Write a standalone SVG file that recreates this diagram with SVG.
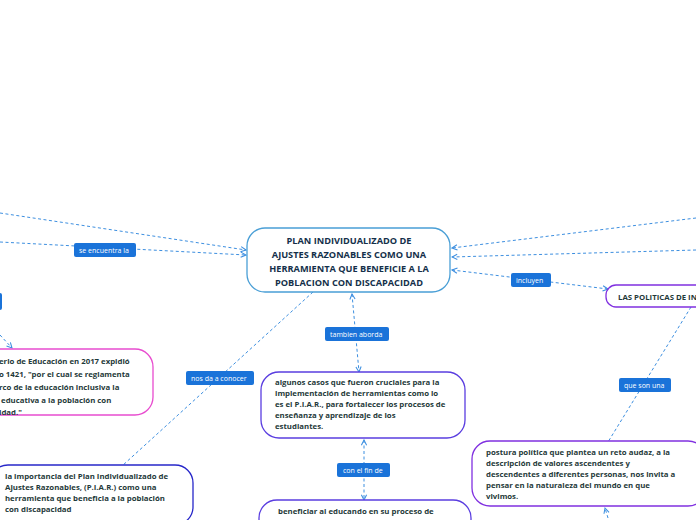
<svg xmlns="http://www.w3.org/2000/svg" width="696" height="520" viewBox="0 0 696 520">
<style>
.n{fill:#fff;stroke-width:1.3}
.t{font-family:"Open Sans","Noto Sans",sans-serif;font-size:7.8px;font-weight:bold;fill:#1f3a3a}
.c{font-family:"Open Sans","Noto Sans",sans-serif;font-size:9.2px;font-weight:bold;fill:#14304a;text-anchor:middle}
.e{fill:none;stroke:#3d8fe0;stroke-width:1;stroke-dasharray:3,2.5}
.lb{fill:#1a73d9}
.lt{font-family:"Open Sans","Noto Sans",sans-serif;font-size:7px;fill:#fff}
</style>
<defs><marker id="a" viewBox="0 0 8 8" refX="7" refY="4" markerWidth="7" markerHeight="7" orient="auto-start-reverse"><path d="M1,1L7,4L1,7" fill="none" stroke="#3d8fe0" stroke-width="1.2"/></marker></defs>
<rect width="696" height="520" fill="#fff"/>
<g id="connectors">
<path class="e" d="M0,213L246,250" marker-end="url(#a)"/>
<path class="e" d="M0,242L246,255" marker-end="url(#a)"/>
<path class="e" d="M0,335L12,348" marker-end="url(#a)"/>
<path class="e" d="M313,292L122,466"/>
<path class="e" d="M352,294L359,372" marker-start="url(#a)" marker-end="url(#a)"/>
<path class="e" d="M364,440L364,500" marker-start="url(#a)" marker-end="url(#a)"/>
<path class="e" d="M696,218L452,248" marker-end="url(#a)"/>
<path class="e" d="M696,250L452,257" marker-end="url(#a)"/>
<path class="e" d="M452,270L608,289" marker-start="url(#a)" marker-end="url(#a)"/>
<path class="e" d="M691,307L608,442"/>
<path class="e" d="M608,518L605,508" marker-end="url(#a)"/>
<rect class="lb" x="74" y="243" width="62" height="14" rx="2"/><text class="lt" x="79" y="253">se encuentra la</text>
<rect class="lb" x="186" y="371" width="68" height="14" rx="2"/><text class="lt" x="191" y="381">nos da a conocer</text>
<rect class="lb" x="325" y="327" width="64" height="14" rx="2"/><text class="lt" x="330" y="337">tambien aborda</text>
<rect class="lb" x="337" y="463" width="53" height="14" rx="2"/><text class="lt" x="343" y="473">con el fin de</text>
<rect class="lb" x="511" y="273" width="40" height="14" rx="2"/><text class="lt" x="516" y="283">incluyen</text>
<rect class="lb" x="619" y="378" width="52" height="14" rx="2"/><text class="lt" x="624" y="388">que son una</text>
<rect class="lb" x="-4" y="293" width="6" height="17" rx="2"/>
</g>
<g id="central"><rect class="n" x="247" y="228" width="203" height="64" rx="18" stroke="#4a9fd6"/>
<text class="c"><tspan x="349" y="244">PLAN INDIVIDUALIZADO DE</tspan><tspan x="349" y="258">AJUSTES RAZONABLES COMO UNA</tspan><tspan x="349" y="272">HERRAMIENTA QUE BENEFICIE A LA</tspan><tspan x="349" y="286">POBLACION CON DISCAPACIDAD</tspan></text></g>
<g id="decreto"><rect class="n" x="-30" y="349" width="183" height="66" rx="18" stroke="#e84ccf"/>
<text class="t"><tspan x="-1" y="364">erio de Educación en 2017 expidió</tspan><tspan x="-1" y="377">o 1421, "por el cual se reglamenta</tspan><tspan x="-1" y="390">rco de la educación inclusiva la</tspan><tspan x="-1" y="403">  educativa a la población con</tspan><tspan x="-1" y="415">idad."</tspan></text></g>
<g id="importancia"><rect class="n" x="-10" y="465" width="203" height="60" rx="18" stroke="#2727c9"/>
<text class="t"><tspan x="5" y="479">la importancia del Plan Individualizado de</tspan><tspan x="5" y="490">Ajustes Razonables, (P.I.A.R.) como una</tspan><tspan x="5" y="501">herramienta que beneficia a la población</tspan><tspan x="5" y="512">con discapacidad</tspan></text></g>
<g id="casos"><rect class="n" x="261" y="372" width="204" height="66" rx="18" stroke="#5a3ee0"/>
<text class="t"><tspan x="275" y="385">algunos casos que fueron cruciales para la</tspan><tspan x="275" y="396">implementación de herramientas como lo</tspan><tspan x="275" y="407">es el P.I.A.R., para fortalecer los procesos de</tspan><tspan x="275" y="418">enseñanza y aprendizaje de los</tspan><tspan x="275" y="429">estudiantes.</tspan></text></g>
<g id="beneficiar"><rect class="n" x="259" y="500" width="212" height="40" rx="18" stroke="#5a3ee0"/>
<text class="t"><tspan x="278" y="514">beneficiar al educando en su proceso de</tspan></text></g>
<g id="politicas"><rect class="n" x="606" y="285" width="120" height="22" rx="10" stroke="#8030e0"/>
<text class="t"><tspan x="618" y="300">LAS POLITICAS DE INCLUSION</tspan></text></g>
<g id="postura"><rect class="n" x="472" y="441" width="234" height="65" rx="18" stroke="#8030e0"/>
<text class="t"><tspan x="486" y="455">postura política que plantea un reto audaz, a la</tspan><tspan x="486" y="466">descripción de valores ascendentes y</tspan><tspan x="486" y="477">descendentes a diferentes personas, nos invita a</tspan><tspan x="486" y="488">pensar en la naturaleza del mundo en que</tspan><tspan x="486" y="499">vivimos.</tspan></text></g>
</svg>
